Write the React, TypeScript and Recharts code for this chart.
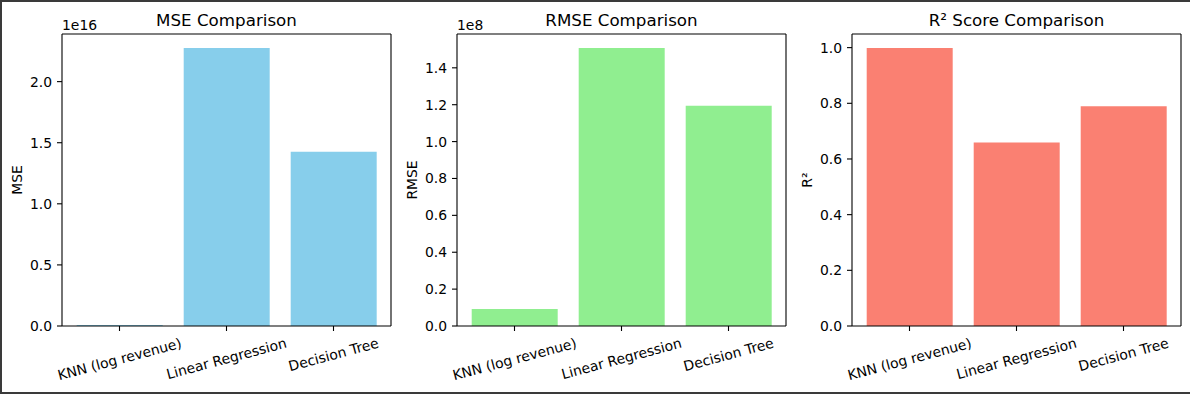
import React from "react";
import { BarChart, Bar, XAxis, YAxis, CartesianGrid } from "recharts";

const models = ["KNN (log revenue)", "Linear Regression", "Decision Tree"];
const mseValues = [0.0085e16, 2.276e16, 1.426e16];
const rmseValues = [0.092e8, 1.508e8, 1.194e8];
const r2Values = [0.999, 0.659, 0.789];

const mseTicks = [0, 0.5e16, 1.0e16, 1.5e16, 2.0e16];
const rmseTicks = [0, 0.2e8, 0.4e8, 0.6e8, 0.8e8, 1.0e8, 1.2e8, 1.4e8];
const r2Ticks = [0, 0.2, 0.4, 0.6, 0.8, 1.0];

const FONT = "DejaVu Sans";
const TICK_PX = 13.9;
const SIN15 = Math.sin((15 * Math.PI) / 180);
const COS15 = Math.cos((15 * Math.PI) / 180);

let ctx: CanvasRenderingContext2D | null = null;
function textWidth(s: string) {
  if (!ctx) ctx = document.createElement("canvas").getContext("2d");
  if (!ctx) return s.length * TICK_PX * 0.6;
  ctx.font = `${TICK_PX}px "${FONT}"`;
  return ctx.measureText(s).width;
}

// matplotlib style rotated label: bbox centred on the tick, top below the tick
function RotatedTick(props: any) {
  const { x, y, payload } = props;
  const w = textWidth(payload.value);
  const h = TICK_PX * 0.96;
  const H = w * SIN15 + h * COS15;
  const cy = y + 5 + H / 2;
  return (
    <text
      x={x}
      y={cy}
      textAnchor="middle"
      dominantBaseline="central"
      transform={`rotate(-15, ${x}, ${cy})`}
      fontFamily={FONT}
      fontSize={TICK_PX}
      fill="#000"
    >
      {payload.value}
    </text>
  );
}

type PanelProps = {
  title: string;
  ylabel: string;
  values: number[];
  ticks: number[];
  scale: number;
  offsetText?: string;
  color: string;
};

function Panel({ title, ylabel, values, ticks, scale, offsetText, color }: PanelProps) {
  const data = models.map((name, i) => ({ name, value: values[i] }));
  const max = Math.max(...values) * 1.05;
  return (
    <div style={{ position: "relative", width: 395, height: 394 }}>
      <BarChart
        width={395}
        height={394}
        data={data}
        margin={{ top: 34, right: 4, left: 22, bottom: 8 }}
        barCategoryGap="10%"
      >
        {/* top and right spines */}
        <CartesianGrid
          stroke="#000"
          strokeWidth={1.1}
          horizontalCoordinatesGenerator={({ offset }: any) => [offset.top]}
          verticalCoordinatesGenerator={({ offset }: any) => [offset.left + offset.width]}
        />
        <XAxis
          dataKey="name"
          height={60}
          padding={{ left: 4, right: 4 }}
          tickSize={5}
          tickMargin={0}
          tick={<RotatedTick />}
          interval={0}
          stroke="#000"
          axisLine={{ stroke: "#000", strokeWidth: 1.1 }}
          tickLine={{ stroke: "#000", strokeWidth: 1.1 }}
        />
        <YAxis
          width={40}
          domain={[0, max]}
          ticks={ticks}
          tickSize={5}
          tickMargin={5}
          tickFormatter={(v: number) => (v / scale).toFixed(1)}
          tick={{ fill: "#000", fontSize: TICK_PX, fontFamily: FONT }}
          axisLine={{ stroke: "#000", strokeWidth: 1.1 }}
          tickLine={{ stroke: "#000", strokeWidth: 1.1 }}
          allowDataOverflow
        />
        <Bar dataKey="value" fill={color} isAnimationActive={false} />
      </BarChart>
      <svg
        width={395}
        height={394}
        style={{ position: "absolute", left: 0, top: 0, pointerEvents: "none" }}
      >
        <text x={226.5} y={26} textAnchor="middle" fontFamily={FONT} fontSize={16.7} fill="#000">
          {title}
        </text>
        <text
          x={17}
          y={180}
          textAnchor="middle"
          dominantBaseline="central"
          transform="rotate(-90, 17, 180)"
          fontFamily={FONT}
          fontSize={TICK_PX}
          fill="#000"
        >
          {ylabel}
        </text>
        {offsetText && (
          <text x={62} y={29.5} fontFamily={FONT} fontSize={TICK_PX} fill="#000">
            {offsetText}
          </text>
        )}
      </svg>
    </div>
  );
}

export default function App() {
  return (
    <div
      style={{
        position: "absolute",
        left: 0,
        top: 0,
        width: 1190,
        height: 394,
        background: "#fff",
        display: "flex",
        overflow: "hidden",
      }}
    >
      <Panel title="MSE Comparison" ylabel="MSE" values={mseValues} ticks={mseTicks} scale={1e16} offsetText="1e16" color="#87CEEB" />
      <Panel title="RMSE Comparison" ylabel="RMSE" values={rmseValues} ticks={rmseTicks} scale={1e8} offsetText="1e8" color="#90EE90" />
      <Panel title="R² Score Comparison" ylabel="R²" values={r2Values} ticks={r2Ticks} scale={1} color="#FA8072" />
      <div
        style={{
          position: "absolute",
          left: 0,
          top: 0,
          width: 1190,
          height: 394,
          boxSizing: "border-box",
          borderLeft: "2px solid #3a3a3a",
          borderTop: "2px solid #3a3a3a",
          borderBottom: "2px solid #3a3a3a",
          pointerEvents: "none",
        }}
      />
    </div>
  );
}
